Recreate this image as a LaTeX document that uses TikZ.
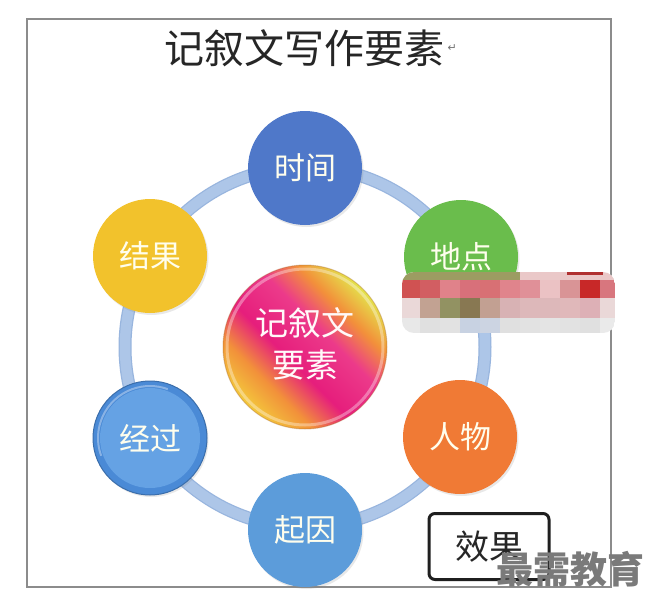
\documentclass[tikz,border=0pt]{standalone}
\usepackage{fontspec}
\newfontfamily\cjk{Noto Sans CJK SC}
\newfontfamily\sym{DejaVu Sans}
\usetikzlibrary{shadows}
\definecolor{ringblue}{HTML}{ADC6E8}
\definecolor{ringedge}{HTML}{98B5DE}
\definecolor{cTime}{HTML}{4F78C9}
\definecolor{cPlace}{HTML}{6ABD4C}
\definecolor{cPerson}{HTML}{F07A35}
\definecolor{cCause}{HTML}{5C9CDA}
\definecolor{cCourse}{HTML}{4A8AD6}
\definecolor{cCourseIn}{HTML}{65A2E4}
\definecolor{cResult}{HTML}{F2C22C}
\definecolor{sy}{HTML}{F3C83C}
\definecolor{so}{HTML}{F2913A}
\definecolor{sm}{HTML}{E61E7C}
\definecolor{sp}{HTML}{EC3A8A}
\definecolor{syg}{HTML}{E4E44C}
\definecolor{mA}{HTML}{9C9C62}
\definecolor{mB}{HTML}{EAC8C8}
\definecolor{mC}{HTML}{B03030}
\pgfdeclarehorizontalshading{ctrshade}{100bp}{color(0bp)=(sy); color(25bp)=(sy); color(34bp)=(so); color(44bp)=(sm); color(57bp)=(sp); color(66bp)=(so); color(75bp)=(syg); color(100bp)=(syg)}
\tikzset{
  elem/.style={circle, minimum size=114pt, inner sep=0pt, text=white!93!yellow,
    font=\cjk\fontsize{31}{31}\selectfont,
    drop shadow={opacity=0.18, shadow xshift=1.5pt, shadow yshift=-2pt}},
}
\begin{document}
\begin{tikzpicture}[x=1pt,y=-1pt]
\useasboundingbox (0,0) rectangle (651,610);
\fill[white] (0,0) rectangle (651,610);
% frame
\draw[line width=1.3pt, draw=black!45] (27,19) rectangle (611,587);
% title
\node[text=black!85] (title) at (304,48) {\cjk\fontsize{40}{40}\selectfont 记叙文写作要素};
\node[anchor=west, inner sep=0pt, text=black!55] (ret) at (title.east) {\sym\fontsize{11}{11}\selectfont ↵};
% ring
\coordinate (ctr) at (305,347);
\draw[line width=13pt, draw=ringedge] (ctr) circle[radius=180];
\draw[line width=10.5pt, draw=ringblue] (ctr) circle[radius=180];
% centre circle
\shade[shading=ctrshade, shading angle=45] (ctr) circle[radius=82];
\draw[line width=3pt, draw=white, opacity=0.35] (ctr) circle[radius=78];
\draw[line width=1pt, draw=so!70!black, opacity=0.35] (ctr) circle[radius=82];
\node[align=center, text=white!90!pink, font=\cjk\fontsize{33}{42}\selectfont] (centre) at (305,344) {记叙文\\要素};
% elements
\node[elem, fill=cTime] (time) at (305,168) {时间};
\node[elem, fill=cPlace] (place) at (461,257) {地点};
\node[elem, fill=cPerson] (person) at (460,437) {人物};
\node[elem, fill=cCause] (cause) at (305,530) {起因};
\node[elem, fill=cCourse, draw=cCourse!80!black, line width=1pt] (course) at (150,438) {};
\fill[cCourseIn] (course.center) circle[radius=50];
\draw[white, opacity=0.35, line width=2pt] (course.center) ++(160:52) arc[start angle=160, end angle=290, radius=52];
\node[text=white!93!yellow, font=\cjk\fontsize{31}{31}\selectfont] (coursetxt) at (course.center) {经过};
\node[elem, fill=cResult] (result) at (150,256) {结果};
% mosaic
\begin{scope}
\clip[rounded corners=12pt] (402,272) rectangle (615,333);
\fill[white] (402,272) rectangle (615,333);
\fill[mA] (402,272) rectangle (520,280);
\fill[mB] (520,272) rectangle (615,280);
\fill[mC] (567,272) rectangle (603,275);
\foreach \xa/\xb/\c in {402/420/D05252,420/440/D25E62,440/460/E0828A,460/480/D8707A,480/500/D87074,500/520/E0848C,520/540/E09098,540/560/EBC2C4,560/580/D99496,580/600/C82828,600/615/D8767E}{
  \definecolor{mc}{HTML}{\c}\fill[mc] (\xa,280) rectangle (\xb,298);}
\foreach \xa/\xb/\c in {402/420/EAD8D8,420/440/C2A292,440/460/929262,460/480/887852,480/500/C2A092,500/520/D8B2B4,520/540/DDB8BA,540/560/DDB8BA,560/580/E0B8BA,580/600/DDB0B6,600/615/EAD8D8}{
  \definecolor{mc}{HTML}{\c}\fill[mc] (\xa,298) rectangle (\xb,318);}
\foreach \xa/\xb/\c in {402/420/E8E8E8,420/440/E0E0E0,440/460/E2E2E2,460/480/C8D2E2,480/500/CCD4E2,500/520/E0E0E0,520/540/E2E2E2,540/560/E4E4E4,560/580/E2E2E2,580/600/E0E0E0,600/615/EAEAEA}{
  \definecolor{mc}{HTML}{\c}\fill[mc] (\xa,318) rectangle (\xb,333);}
\end{scope}
% effect box
\node[draw=black!88, line width=3pt, rounded corners=6pt, minimum width=120pt, minimum height=66pt,
  font=\cjk\fontsize{34}{34}\selectfont, text=black!85] (effect) at (489,546.5) {效果};
% watermark
\node[text=black!52, font=\cjk\bfseries\fontsize{37}{37}\selectfont, inner sep=0pt] (wm) at (570,569) {最需教育};
\end{tikzpicture}
\end{document}
